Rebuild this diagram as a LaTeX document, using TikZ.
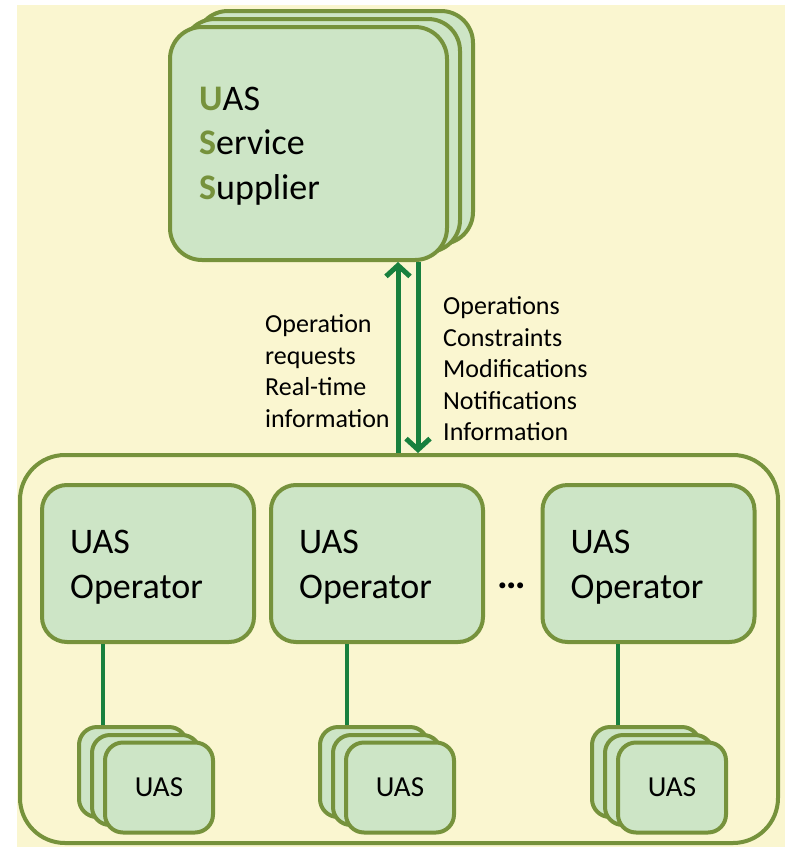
\documentclass[tikz,border=0pt]{standalone}
\usepackage{fontspec}
\setmainfont{Carlito}
\usetikzlibrary{arrows.meta}

\definecolor{bgyellow}{RGB}{250,246,208}
\definecolor{boxgreen}{RGB}{205,229,198}
\definecolor{olivedark}{RGB}{118,146,60}
\definecolor{arrowgreen}{RGB}{24,128,62}

\begin{document}
\begin{tikzpicture}[x=1pt,y=-1pt,
    card/.style={draw=olivedark,fill=boxgreen,line width=4pt,inner sep=0pt},
    bigtext/.style={font=\fontsize{36}{44.5}\selectfont,align=left,inner sep=0pt,anchor=west},
    smalltext/.style={font=\fontsize{26}{31.5}\selectfont,align=left,inner sep=0pt,anchor=west},
    flow/.style={draw=arrowgreen,line width=5pt,-{Straight Barb[length=11pt,width=24pt]}},
    wire/.style={draw=arrowgreen,line width=4pt}]

\useasboundingbox (0,0) rectangle (785,847);
\fill[bgyellow] (17,5) rectangle (785,847);

% supplier, three sheets
\node[card,rounded corners=32pt,minimum width=277pt,minimum height=233pt] (sup3) at (334.5,127.5) {};
\node[card,rounded corners=32pt,minimum width=277pt,minimum height=233pt] (sup2) at (321.5,135.5) {};
\node[card,rounded corners=32pt,minimum width=277pt,minimum height=233pt] (sup) at (308.5,143.5) {};
\node[bigtext] (suptext) at (199,146) {\textcolor{olivedark}{\textbf{U}}AS\\ \textcolor{olivedark}{\textbf{S}}ervice\\ \textcolor{olivedark}{\textbf{S}}upplier};

% operators
\node[draw=olivedark,line width=4pt,rounded corners=45pt,minimum width=758pt,minimum height=388pt] (ops) at (399,649) {};

\foreach \i/\x/\u/\l in {1/148/159/103, 2/377/400/347, 3/648.5/672/618} {
    \node[card,rounded corners=25pt,minimum width=212pt,minimum height=157pt] (op\i) at (\x,563.5) {};
    \node[bigtext] (optext\i) at (\x-78,567) {UAS\\Operator};

    \node[card,rounded corners=18pt,minimum width=108pt,minimum height=90pt] (uasc\i) at (\u-26,772) {};
    \node[card,rounded corners=18pt,minimum width=108pt,minimum height=90pt] (uasb\i) at (\u-13,780) {};
    \node[card,rounded corners=18pt,minimum width=108pt,minimum height=90pt,font=\fontsize{29}{34}\selectfont] (uas\i) at (\u,787.5) {UAS};

    \coordinate (l\i) at (\l,0);
    \draw[wire] (l\i |- op\i.south) -- (l\i |- uasc\i.north);
}

\node[font=\fontsize{40}{40}\selectfont,inner sep=0pt] (dots) at (512,586) {\textbf{\dots}};

% exchange with the supplier
\coordinate (up) at (398,0);
\coordinate (down) at (418,0);
\draw[flow] (up |- ops.north) -- (up |- sup.south);
\draw[flow] (down |- sup.south) -- (down |- ops.north);

\node[smalltext] (reqtext) at (265,371) {Operation\\requests\\Real-time\\information};
\node[smalltext] (infotext) at (443,369) {Operations\\Constraints\\Modifications\\Notifications\\Information};

\end{tikzpicture}
\end{document}
